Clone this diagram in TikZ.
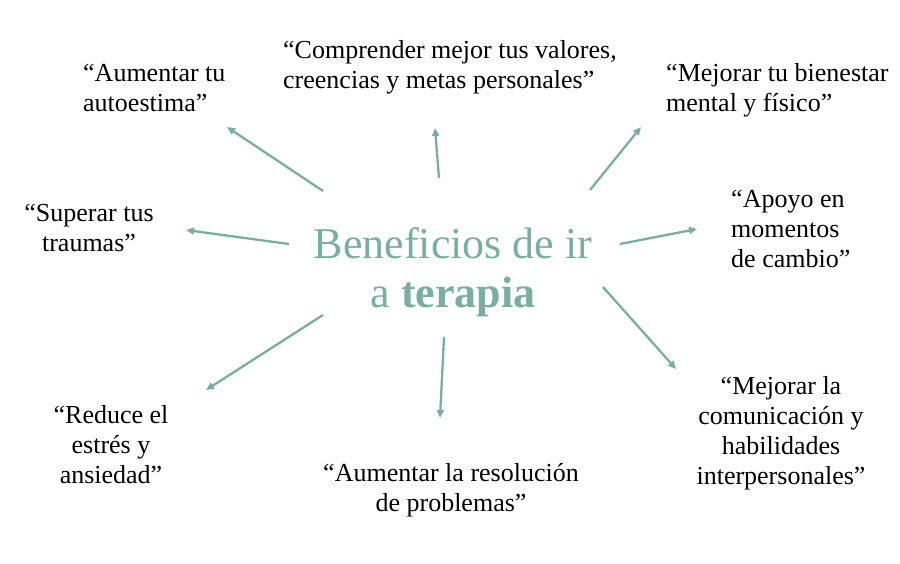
\documentclass[tikz,border=0pt]{standalone}
\usepackage{fontspec}
\setmainfont{Liberation Serif}
\usetikzlibrary{arrows.meta}
\definecolor{sage}{RGB}{122,174,158}
\begin{document}
\begin{tikzpicture}
[x=1pt,y=-1pt,
  titledecorate/.style={text=sage,align=center,inner sep=0pt,anchor=north,%
    font=\fontsize{44}{49}\selectfont},
  labeldecorate/.style={inner sep=0pt,font=\fontsize{26}{30}\selectfont},
  arrowdecorate/.style={-{Triangle[length=8pt,width=7pt]},draw=sage,line width=2.3pt}]
\useasboundingbox (0,0) rectangle (900,564);
%% title in the middle
\node (title) at (453,227) [titledecorate] {Beneficios de ir\\a \textbf{terapia}};
%% labels round it
\node (autoestima) at (83,64) [labeldecorate,anchor=north west,align=left]
  {“Aumentar tu\\autoestima”};
\node (valores) at (283,40) [labeldecorate,anchor=north west,align=left]
  {“Comprender mejor tus valores,\\creencias y metas personales”};
\node (bienestar) at (666,63) [labeldecorate,anchor=north west,align=left]
  {“Mejorar tu bienestar\\mental y físico”};
\node (cambio) at (731,190) [labeldecorate,anchor=north west,align=left]
  {“Apoyo en\\momentos\\de cambio”};
\node (comunicacion) at (781,376) [labeldecorate,anchor=north,align=center]
  {“Mejorar la\\comunicación y\\habilidades\\interpersonales”};
\node (problemas) at (451,463) [labeldecorate,anchor=north,align=center]
  {“Aumentar la resolución\\de problemas”};
\node (ansiedad) at (111,405) [labeldecorate,anchor=north,align=center]
  {“Reduce el\\estrés y\\ansiedad”};
\node (traumas) at (89,204) [labeldecorate,anchor=north,align=center]
  {“Superar tus\\traumas”};
%% ends of the arrows
\foreach \endname/\x/\y in {s1/323/191, e1/227/127, s2/439/178, e2/435/128,
  s3/590/190, e3/641/127, s4/620/244, e4/697/229, s5/603/287, e5/676/369,
  s6/444/337, e6/440/418, s7/323/315, e7/206/390, s8/289/244, e8/186/230} {
  \coordinate (\endname) at (\x,\y);
}
%% arrows
\path
\foreach \startnode/\endnode in {s1/e1, s2/e2, s3/e3, s4/e4, s5/e5, s6/e6,
  s7/e7, s8/e8} {
  (\startnode) edge[arrowdecorate] (\endnode)
};
\end{tikzpicture}
\end{document}
